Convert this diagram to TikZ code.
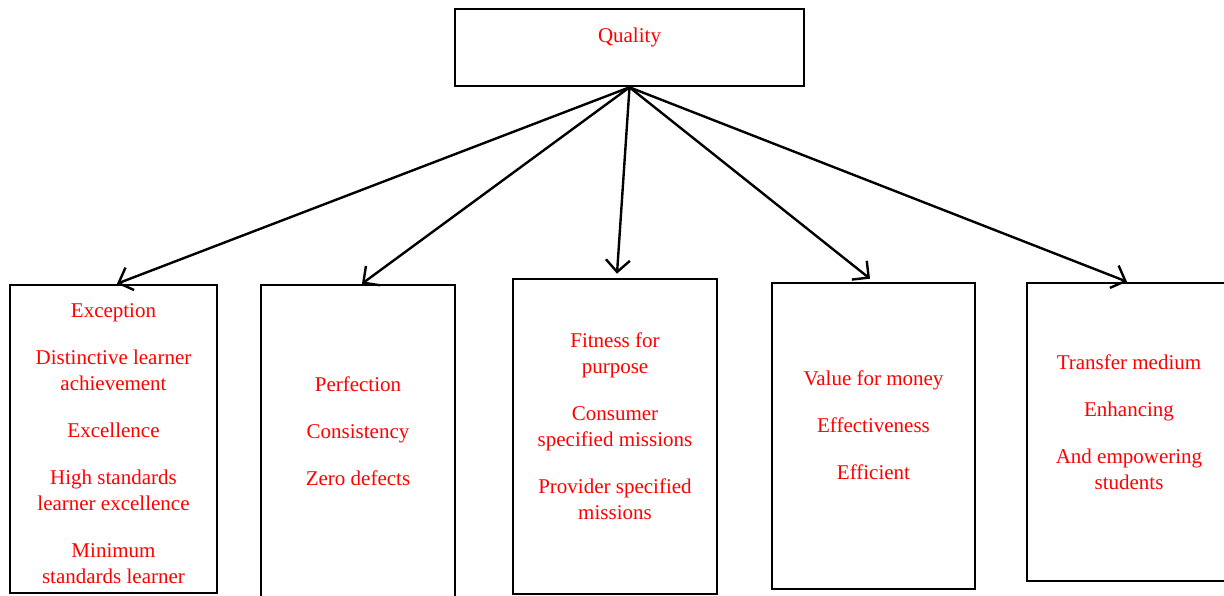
\documentclass[tikz,border=0pt]{standalone}
\usepackage{fontspec}
\setmainfont{Liberation Serif}
\usetikzlibrary{arrows.meta}

\begin{document}
\begin{tikzpicture}[x=1pt, y=-1pt, >={Straight Barb[length=12pt,width=24pt]},
		box/.style={draw, line width=2.6pt, inner sep=0pt},
		txt/.style={text=red, align=center, font=\fontsize{21}{26}\selectfont},
		link/.style={->, line width=2.4pt}]
		\useasboundingbox (0,0) rectangle (1224,595);
		
		% 顶部方框
		\node[box, minimum width=349pt, minimum height=77pt] (quality) at (629.5,47.5) {};
		\node[txt] (qualitytxt) at (629.5,37.5) {Quality};
		
		% 五个分类方框
		\node[box, minimum width=207pt, minimum height=308pt] (exc) at (113.5,439) {};
		\node[box, minimum width=194pt, minimum height=320pt] (perf) at (358,445) {};
		\node[box, minimum width=204pt, minimum height=315pt] (fit) at (615,436.5) {};
		\node[box, minimum width=203pt, minimum height=306pt] (val) at (873.5,436) {};
		\node[box, minimum width=204pt, minimum height=298pt] (trans) at (1129,432) {};
		
		% 方框内文字
		\node[txt] (exctxt) at (113.5,443.5) {Exception\\[21pt]Distinctive learner\\achievement\\[21pt]Excellence\\[21pt]High standards\\learner excellence\\[21pt]Minimum\\standards learner};
		\node[txt] (perftxt) at (358,431) {Perfection\\[21pt]Consistency\\[21pt]Zero defects};
		\node[txt] (fittxt) at (615,426.5) {Fitness for\\purpose\\[21pt]Consumer\\specified missions\\[21pt]Provider specified\\missions};
		\node[txt] (valtxt) at (873.5,425.5) {Value for money\\[21pt]Effectiveness\\[21pt]Efficient};
		\node[txt] (transtxt) at (1129,422.5) {Transfer medium\\[21pt]Enhancing\\[21pt]And empowering\\students};
		
		% 箭头
		\draw[link] (quality.south) -- ([xshift=3.5pt]exc.north);
		\draw[link] (quality.south) -- ([xshift=4pt]perf.north);
		\draw[link] (quality.south) -- ([xshift=2pt,yshift=4pt]fit.north);
		\draw[link] (quality.south) -- ([xshift=-3.5pt,yshift=3pt]val.north);
		\draw[link] (quality.south) -- ([xshift=-2pt]trans.north);
	\end{tikzpicture}
\end{document}
